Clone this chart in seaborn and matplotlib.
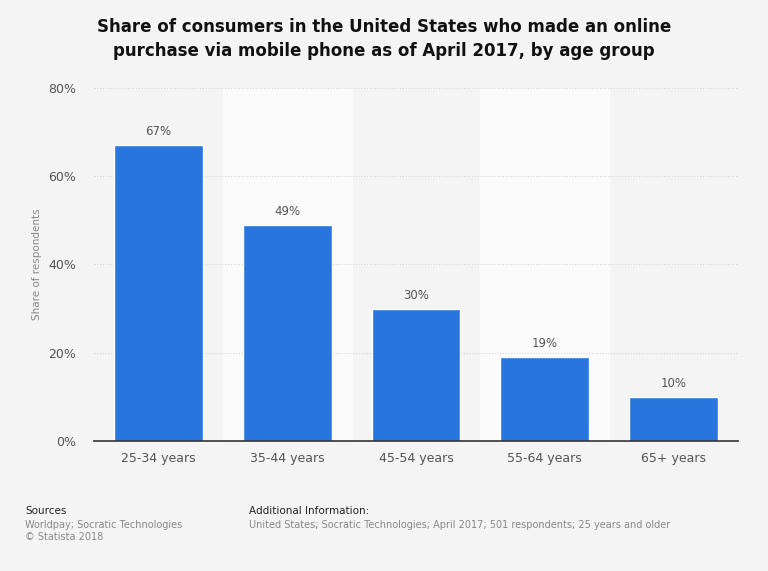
import matplotlib
matplotlib.use("Agg")
import matplotlib.pyplot as plt
import seaborn as sns
import pandas as pd

age_groups = ["25-34 years", "35-44 years", "45-54 years", "55-64 years", "65+ years"]
shares = [67, 49, 30, 19, 10]
y_ticks = [0, 20, 40, 60, 80]

df = pd.DataFrame({"age": age_groups, "share": shares})

sns.set_style("white")
plt.rcParams["font.family"] = ["DejaVu Sans"]

bg = "#f4f4f4"
fig = plt.figure(figsize=(7.68, 5.71), dpi=100, facecolor=bg)
ax = fig.add_axes([0.1224, 0.2277, 0.8386, 0.6182])
ax.set_facecolor(bg)

# lighter bands behind every other category
for i in range(len(age_groups)):
    if i % 2 == 1:
        ax.axvspan(i - 0.5, i + 0.5, color="#fbfbfb", zorder=0)

sns.barplot(data=df, x="age", y="share", color="#2876dd", width=0.69,
            saturation=1, ax=ax, zorder=3)

for i, v in enumerate(shares):
    ax.text(i, v + 1.6, "{}%".format(v), ha="center", va="bottom",
            fontsize=8.5, color="#555555", zorder=4)

ax.set_xlim(-0.5, len(age_groups) - 0.5)
ax.set_ylim(0, 80)
ax.set_yticks(y_ticks)
ax.set_yticklabels(["{}%".format(t) for t in y_ticks])
for t in y_ticks[1:]:
    ax.axhline(t, color="#d8d8d8", linestyle=(0, (1, 1.5)), linewidth=0.8, zorder=1)

for s in ["top", "right", "left"]:
    ax.spines[s].set_visible(False)
ax.spines["bottom"].set_color("#333333")
ax.spines["bottom"].set_linewidth(1.2)
ax.spines["bottom"].set_zorder(5)

ax.tick_params(axis="both", length=0, labelsize=9, labelcolor="#555555")
ax.tick_params(axis="y", pad=13)
ax.tick_params(axis="x", pad=8)
ax.set_xlabel("")
ax.set_ylabel("Share of respondents", fontsize=7.5, color="#888888", labelpad=4)

fig.text(0.5, 0.932, "Share of consumers in the United States who made an online\n"
         "purchase via mobile phone as of April 2017, by age group",
         ha="center", va="center", fontsize=12, fontweight="bold",
         color="#111111", linespacing=1.45)

fig.text(0.033, 0.100, "Sources", fontsize=7.5, color="#222222")
fig.text(0.033, 0.076, "Worldpay; Socratic Technologies", fontsize=7, color="#888888")
fig.text(0.033, 0.054, "\u00a9 Statista 2018", fontsize=7, color="#888888")
fig.text(0.324, 0.100, "Additional Information:", fontsize=7.5, color="#222222")
fig.text(0.324, 0.076, "United States; Socratic Technologies; April 2017; 501 respondents; 25 years and older",
         fontsize=7, color="#888888")

fig.savefig("out.png", dpi=100, facecolor=bg)
